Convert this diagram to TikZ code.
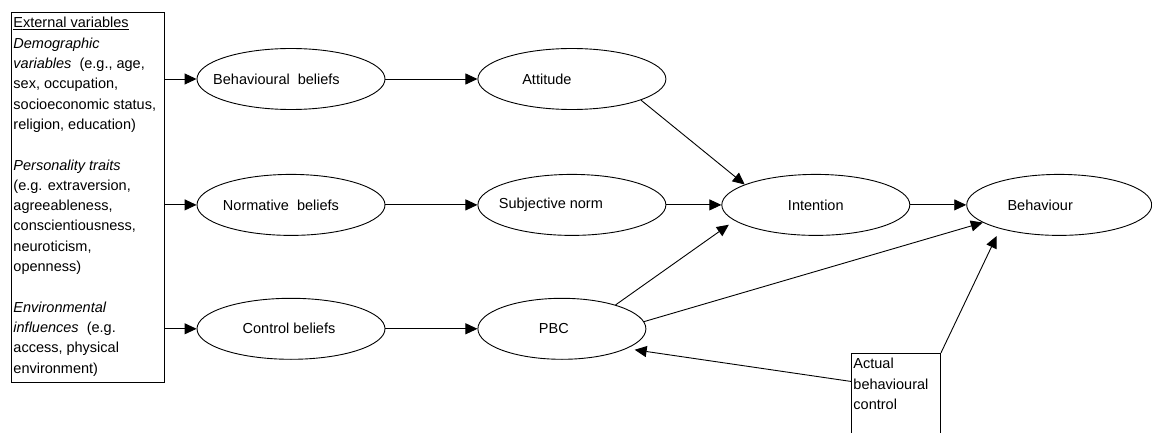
\documentclass[tikz,border=0pt]{standalone}
\usepackage{fontspec}
\setmainfont{Liberation Sans}
\usetikzlibrary{shapes,arrows.meta}
\usetikzlibrary{positioning,calc}
\newcommand{\lefttext}[2]{\makebox[0pt]{#2\hspace*{#1}}}

\begin{document}
\begin{tikzpicture}[x=1pt,y=-1pt,every text node part/.style={align=center}]
\tikzset{myFont/.style={font=\fontsize{14.5}{20.3}\selectfont}}
\tikzset{myOval/.style={draw,ellipse,minimum width=188pt,minimum height=61pt,inner sep=0pt,line width=0.9pt,myFont}}
\tikzset{myBox/.style={draw,anchor=north west,inner xsep=2pt,inner ysep=5pt,line width=0.9pt,myFont}}
\tikzset{myArrow/.style={draw,line width=0.9pt,-{Triangle[length=12pt,width=11pt]}}}

\useasboundingbox (0,0) rectangle (1152,433);

\node[myBox] (ext) at (11,12) {\parbox[t][360pt][t]{149pt}{\raggedright
\underline{External variables}\\
\textit{Demographic}\\
\textit{variables}\ \ (e.g., age,\\
sex, occupation,\\
socioeconomic status,\\
religion, education)\\
\mbox{}\\
\textit{Personality traits}\\
(e.g. extraversion,\\
agreeableness,\\
conscientiousness,\\
neuroticism,\\
openness)\\
\mbox{}\\
\textit{Environmental}\\
\textit{influences}\ \ (e.g.\\
access, physical\\
environment)}};

\node[myOval] (bb) at (291,79) {\lefttext{29pt}{Behavioural\ \ beliefs}};
\node[myOval,right=92pt of bb] (att) {\lefttext{50pt}{Attitude}};
\node[myOval,below=64pt of bb] (nb) {\lefttext{20pt}{Normative\ \ beliefs}};
\node[myOval,right=92pt of nb] (sn) {\lefttext{42pt}{Subjective norm}};
\node[myOval,right=55pt of sn] (int) {Intention};
\node[myOval,minimum width=185pt,right=56pt of int] (beh) {\lefttext{38pt}{Behaviour}};
\node[myOval,below=62pt of nb] (cb) {\lefttext{4pt}{Control beliefs}};
\node[myOval,minimum width=168pt,right=92pt of cb] (pbc) {\lefttext{16pt}{PBC}};

\node[myBox] (act) at (851,353) {\parbox[t][100pt][t]{85pt}{\raggedright Actual\\behavioural\\control}};

\path[myArrow] (bb.west -| ext.east) -- (bb.west);
\path[myArrow] (nb.west -| ext.east) -- (nb.west);
\path[myArrow] (cb.west -| ext.east) -- (cb.west);

\path[myArrow] (bb) -- (att);
\path[myArrow] (nb) -- (sn);
\path[myArrow] (cb) -- (pbc);
\path[myArrow] (sn) -- (int);
\path[myArrow] (int) -- (beh);

\path[myArrow] (att.-17) -- (int.164);
\path[myArrow,shorten >=7pt] (pbc.24) -- (int.191);
\path[myArrow] (pbc.5) -- (beh.193);
\path[myArrow,shorten >=8pt] (act.north east) -- (beh.202);
\path[myArrow,shorten >=8pt] (act.149) -- (pbc.-17);
\end{tikzpicture}
\end{document}
